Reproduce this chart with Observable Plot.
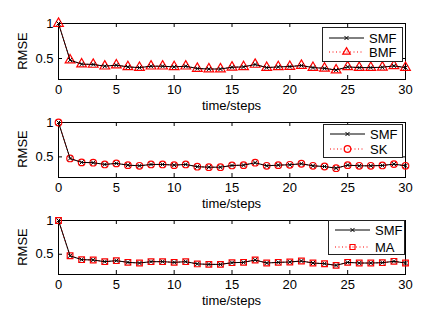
<!DOCTYPE html>
<html><head><meta charset="utf-8">
<script src="https://cdn.jsdelivr.net/npm/d3@7"></script>
<script src="https://cdn.jsdelivr.net/npm/@observablehq/plot@0.6"></script>
<style>
body{margin:0;background:#fff;}
#wrap{position:relative;width:448px;height:327px;overflow:hidden;font-family:"Liberation Sans",Arial,sans-serif;color:#000;}
.panel{position:absolute;left:0;}
.lbl{position:absolute;font-size:13px;white-space:nowrap;line-height:1;}
.legend{position:absolute;box-sizing:border-box;border:1px solid #222;background:#fff;}
</style></head><body><div id="wrap"></div>
<script>
const steps = [0,1,2,3,4,5,6,7,8,9,10,11,12,13,14,15,16,17,18,19,20,21,22,23,24,25,26,27,28,29,30];
const smf = [1.0,0.477,0.42,0.415,0.39,0.405,0.38,0.37,0.39,0.39,0.38,0.39,0.357,0.35,0.35,0.375,0.38,0.415,0.37,0.38,0.385,0.40,0.37,0.36,0.335,0.38,0.37,0.37,0.375,0.395,0.37];
const bmf = [1.0,0.477,0.42,0.415,0.39,0.405,0.38,0.37,0.39,0.39,0.38,0.39,0.357,0.35,0.35,0.375,0.38,0.415,0.37,0.38,0.385,0.40,0.37,0.36,0.335,0.38,0.37,0.37,0.375,0.395,0.37];
const sk  = [1.0,0.477,0.42,0.415,0.39,0.405,0.38,0.37,0.39,0.39,0.38,0.39,0.357,0.35,0.35,0.375,0.38,0.415,0.37,0.38,0.385,0.40,0.37,0.36,0.335,0.38,0.37,0.37,0.375,0.395,0.37];
const ma  = [1.0,0.477,0.42,0.415,0.39,0.405,0.38,0.37,0.39,0.39,0.38,0.39,0.357,0.35,0.35,0.375,0.38,0.415,0.37,0.38,0.385,0.40,0.37,0.36,0.335,0.38,0.37,0.37,0.375,0.395,0.37];
const xTicks = [0,5,10,15,20,25,30];
const yTicks = [0.5,1];
const yDomain = [0.2,1];
const xDomain = [0,30];
const xLabel = "time/steps";
const yLabel = "RMSE";
const refName = "SMF";

const panels = [
  {name:"BMF", values:bmf, symbol:"triangle", d3sym:d3.symbolTriangle2, r:3.6, top:0, boxH:56,
   lg:{left:322, top:27, width:81, height:35, r1:11, r2:25}},
  {name:"SK", values:sk, symbol:"circle", d3sym:d3.symbolCircle, r:3.3, top:98.7, boxH:55,
   lg:{left:323, top:124, width:80, height:34, r1:10, r2:25}},
  {name:"MA", values:ma, symbol:"square", d3sym:d3.symbolSquare2, r:3.2, top:197, boxH:54,
   lg:{left:328, top:220, width:77, height:35, r1:10, r2:27}}
];

const W = 448, mt = 23, mb = 34, ml = 58, mr = 43;
const plotW = W - ml - mr;
const wrap = document.getElementById("wrap");

panels.forEach(p => {
  const rows = steps.map((s, i) => ({s, ref: smf[i], other: p.values[i]}));
  const H = mt + p.boxH + mb;
  const chart = Plot.plot({
    width: W, height: H, marginTop: mt, marginBottom: mb, marginLeft: ml, marginRight: mr,
    style: {background: "transparent", fontFamily: "Liberation Sans, Arial, sans-serif", fontSize: "13px", color: "#000", overflow: "visible"},
    x: {domain: xDomain},
    y: {domain: yDomain},
    marks: [
      Plot.frame({stroke: "black"}),
      Plot.tickX(xTicks, {x: d => d, stroke: "black", insetTop: p.boxH - 4}),
      Plot.tickX(xTicks, {x: d => d, stroke: "black", insetBottom: p.boxH - 4}),
      Plot.tickY(yTicks, {y: d => d, stroke: "black", insetRight: plotW - 4}),
      Plot.tickY(yTicks, {y: d => d, stroke: "black", insetLeft: plotW - 4}),
      Plot.axisX(xTicks, {anchor: "bottom", tickSize: 0, tickPadding: 5, label: null, tickFormat: d => String(d)}),
      Plot.axisY(yTicks, {anchor: "left", tickSize: 0, tickPadding: 5, label: null, tickFormat: d => String(d)}),
      Plot.lineY(rows, {x: "s", y: "other", stroke: "red", strokeWidth: 1, strokeDasharray: "1,2.5"}),
      Plot.dot(rows, {x: "s", y: "other", symbol: p.symbol, r: p.r, stroke: "red", fill: "none", strokeWidth: 1.2}),
      Plot.lineY(rows, {x: "s", y: "ref", stroke: "black", strokeWidth: 1}),
      Plot.dot(rows, {x: "s", y: "ref", symbol: "times", r: 2.0, stroke: "black", strokeWidth: 1})
    ]
  });
  const holder = document.createElement("div");
  holder.className = "panel";
  holder.style.top = p.top + "px";
  holder.appendChild(chart);
  wrap.appendChild(holder);

  const frameTop = p.top + mt, frameBottom = p.top + mt + p.boxH;
  const xl = document.createElement("div");
  xl.className = "lbl"; xl.textContent = xLabel;
  xl.style.left = (ml + plotW / 2) + "px"; xl.style.top = (frameBottom + 26) + "px";
  xl.style.transform = "translate(-50%,-50%)";
  wrap.appendChild(xl);
  const yl = document.createElement("div");
  yl.className = "lbl"; yl.textContent = yLabel;
  yl.style.left = "22px"; yl.style.top = ((frameTop + frameBottom) / 2) + "px";
  yl.style.transform = "translate(-50%,-50%) rotate(-90deg)";
  wrap.appendChild(yl);

  const lg = p.lg;
  const box = document.createElement("div");
  box.className = "legend";
  box.style.left = lg.left + "px"; box.style.top = lg.top + "px";
  box.style.width = lg.width + "px"; box.style.height = lg.height + "px";
  wrap.appendChild(box);
  const svg = d3.select(box).append("svg")
    .attr("width", lg.width - 2).attr("height", lg.height - 2)
    .style("position", "absolute").style("left", "0px").style("top", "0px").style("overflow", "visible");
  const x1 = 6, x2 = 41, xm = 23.5, tx = 46;
  const entries = [
    {label: refName, y: lg.r1 - 1, stroke: "black", dash: null, sym: d3.symbolTimes, r: 2.0, sw: 1},
    {label: p.name, y: lg.r2 - 1, stroke: "red", dash: "1,2.5", sym: p.d3sym, r: p.r, sw: 1.2}
  ];
  entries.forEach(e => {
    svg.append("line").attr("x1", x1).attr("x2", x2).attr("y1", e.y).attr("y2", e.y)
      .attr("stroke", e.stroke).attr("stroke-width", 1).attr("stroke-dasharray", e.dash);
    svg.append("path").attr("d", d3.symbol(e.sym, Math.PI * e.r * e.r)())
      .attr("transform", `translate(${xm},${e.y})`)
      .attr("fill", "none").attr("stroke", e.stroke).attr("stroke-width", e.sw);
    svg.append("text").attr("x", tx).attr("y", e.y).attr("dy", "0.35em")
      .attr("font-size", 13).attr("font-family", "Liberation Sans, Arial, sans-serif")
      .text(e.label);
  });
});
</script></body></html>
